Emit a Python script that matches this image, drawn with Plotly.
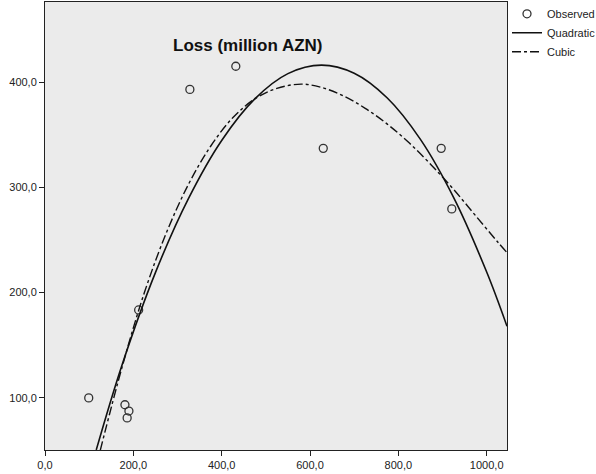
import plotly.graph_objects as go

# Observed data
obs_x = [99, 181, 186, 190, 212, 328, 432, 630, 897, 921]
obs_y = [100, 93.5, 81, 87.5, 183.5, 393, 415, 337, 337, 279.5]

# Quadratic fit curve
quad_x = [116, 175, 250, 325, 400, 475, 550, 626, 700, 775, 850, 925, 1000, 1046]
quad_y = [50.6, 132, 219, 289.5, 344.5, 384, 408, 416, 408.3, 384.8, 345.5, 290.4, 219.5, 168]

# Cubic fit curve
cub_x = [125, 175, 225, 275, 325, 375, 425, 475, 525, 580, 625, 675, 725, 775, 825, 875, 925, 975, 1025, 1046]
cub_y = [50, 130, 200, 257, 303, 339, 366, 384, 394, 398, 395, 387, 375, 360, 342, 321, 298, 273, 248, 238]

x_ticks = [0, 200, 400, 600, 800, 1000]
y_ticks = [100, 200, 300, 400]

font = "Liberation Sans, Arial, sans-serif"

fig = go.Figure()
fig.add_trace(go.Scatter(x=obs_x, y=obs_y, mode="markers", name="Observed",
                         marker=dict(symbol="circle-open", size=8, color="#333333",
                                     line=dict(width=1.3, color="#333333"))))
fig.add_trace(go.Scatter(x=quad_x, y=quad_y, mode="lines", name="Quadratic",
                         line=dict(color="#111111", width=1.6, shape="spline", smoothing=1.0)))
fig.add_trace(go.Scatter(x=cub_x, y=cub_y, mode="lines", name="Cubic",
                         line=dict(color="#111111", width=1.4, dash="dashdot", shape="spline", smoothing=1.0)))

fig.add_annotation(text="<b>Loss (million AZN)</b>", xref="paper", yref="paper",
                   x=(248 - 45.5) / 461, y=1 - (45 - 2) / 448, yanchor="middle",
                   showarrow=False, font=dict(family=font, size=17, color="#111111"))

fig.update_layout(
    width=596, height=474,
    margin=dict(l=45, r=89, t=2, b=24, autoexpand=False),
    paper_bgcolor="white",
    plot_bgcolor="#EBEBEB",
    separators=",.",
    font=dict(family=font, size=11, color="#222222"),
    showlegend=True,
    legend=dict(x=1.0, y=1.006, xanchor="left", yanchor="top", xref="paper", yref="paper",
                font=dict(size=11, family=font, color="#222222"), bgcolor="rgba(0,0,0,0)",
                itemwidth=30, tracegroupgap=0),
)
fig.update_xaxes(range=[0, 1046], tickvals=x_ticks, tickformat=".1f", showgrid=False, zeroline=False,
                 showline=True, linecolor="#222222", linewidth=1, mirror=True,
                 ticks="outside", ticklen=5, tickcolor="#222222")
fig.update_yaxes(range=[50.5, 476], tickvals=y_ticks, tickformat=".1f", showgrid=False, zeroline=False,
                 showline=True, linecolor="#222222", linewidth=1, mirror=True,
                 ticks="outside", ticklen=5, tickcolor="#222222")

fig.write_html("out.html")
